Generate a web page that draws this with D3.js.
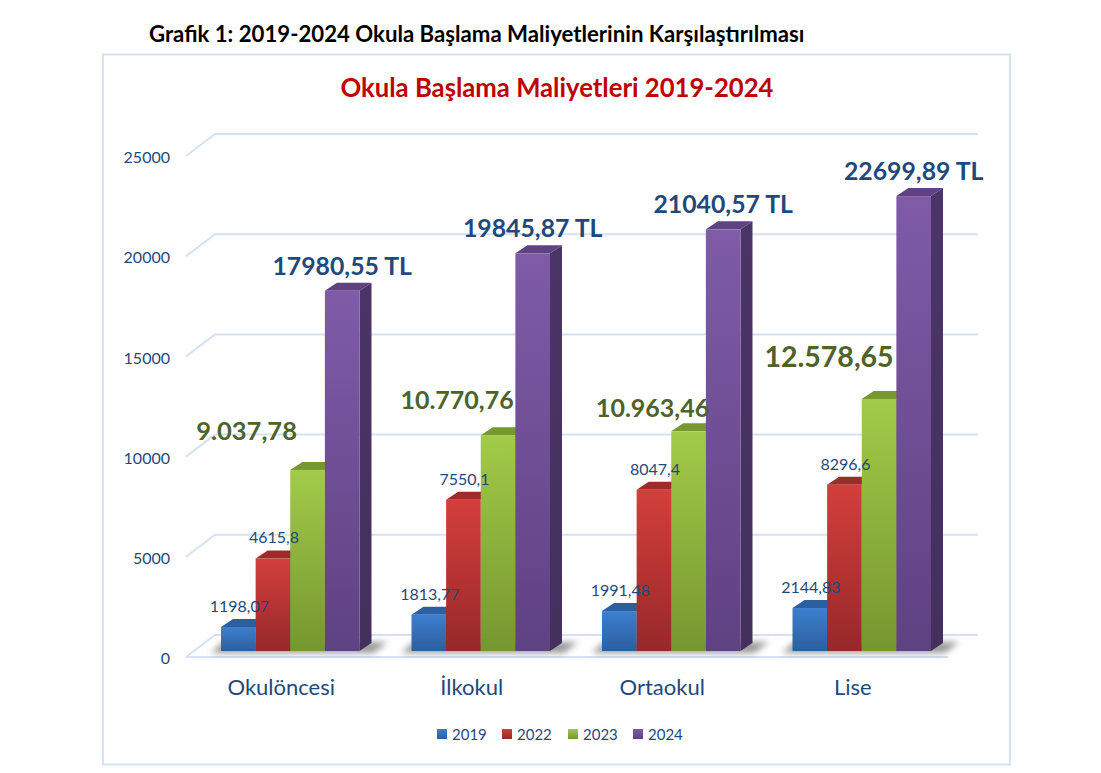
<!DOCTYPE html>
<html><head><meta charset="utf-8">
<script src="https://cdn.jsdelivr.net/npm/d3@7/dist/d3.min.js"></script>
<style>html,body{margin:0;padding:0;background:#fff}svg{display:block}text{font-family:Lato,"Open Sans",sans-serif}</style>
</head><body><script>
const pageTitle = "Grafik 1: 2019-2024 Okula Başlama Maliyetlerinin Karşılaştırılması";
const chartTitle = "Okula Başlama Maliyetleri 2019-2024";
const categories = ["Okulöncesi","İlkokul","Ortaokul","Lise"];
const seriesNames = ["2019","2022","2023","2024"];
const v2019 = [1198.07,1813.77,1991.48,2144.83];
const v2022 = [4615.8,7550.1,8047.4,8296.6];
const v2023 = [9037.78,10770.76,10963.46,12578.65];
const v2024 = [17980.55,19845.87,21040.57,22699.89];
const l2019 = ["1198,07","1813,77","1991,48","2144,83"];
const l2022 = ["4615,8","7550,1","8047,4","8296,6"];
const l2023 = ["9.037,78","10.770,76","10.963,46","12.578,65"];
const l2024 = ["17980,55 TL","19845,87 TL","21040,57 TL","22699,89 TL"];
const yTicks = [0,5000,10000,15000,20000,25000];

const seriesValues=[v2019,v2022,v2023,v2024], seriesLabels=[l2019,l2022,l2023,l2024];
const W=1101,H=773;
const svg=d3.select("body").append("svg").attr("width",W).attr("height",H);
const defs=svg.append("defs");
const pal=[
 {t:"#3d7fd0",b:"#2c5f9e",top:"#2b5f9f",side:"#24497c"},
 {t:"#d33f3b",b:"#97282a",top:"#9c2b2a",side:"#7a2020"},
 {t:"#a2cb49",b:"#76962f",top:"#76982f",side:"#5c7725"},
 {t:"#7f5ba8",b:"#5f4282",top:"#5f4282",side:"#4b3568"}];
pal.forEach((p,i)=>{
  const g=defs.append("linearGradient").attr("id","g"+i).attr("x1",0).attr("y1",0).attr("x2",0).attr("y2",1);
  g.append("stop").attr("offset",0).attr("stop-color",p.t);
  g.append("stop").attr("offset",1).attr("stop-color",p.b);
  const s=defs.append("linearGradient").attr("id","s"+i).attr("x1",0).attr("y1",0).attr("x2",0).attr("y2",1);
  s.append("stop").attr("offset",0).attr("stop-color",p.side);
  s.append("stop").attr("offset",1).attr("stop-color",d3.color(p.side).darker(0.3));
});
defs.append("filter").attr("id","blur").attr("x","-20%").attr("y","-100%").attr("width","140%").attr("height","300%")
  .append("feGaussianBlur").attr("stdDeviation",3);

const INK="#1f497d", GRID="#d5e2f3";
svg.append("text").attr("x",149).attr("y",42).attr("font-size",22.2).attr("font-weight",700).attr("fill","#000").text(pageTitle);
svg.append("rect").attr("x",103).attr("y",54.5).attr("width",907).attr("height",710).attr("fill","#fff").attr("stroke",GRID).attr("stroke-width",2);
svg.append("text").attr("x",557).attr("y",97).attr("text-anchor","middle").attr("font-size",25.7).attr("font-weight",700).attr("fill","#c00000").text(chartTitle);

const y=d3.scaleLinear().domain([0,25000]).range([657,156]);
const depthX=29, depthY=22, left=186, right=948;
const grid=svg.append("g").attr("fill","none").attr("stroke",GRID).attr("stroke-width",2);
yTicks.forEach(t=>{
  const f=y(t);
  grid.append("path").attr("d",`M${left},${f}L${left+depthX},${f-depthY}L${right+depthX+1},${f-depthY}`);
});
grid.append("path").attr("d",`M${left},${y(0)}L${right},${y(0)}`);

svg.append("g").attr("transform","translate(170,1.5)")
  .call(d3.axisLeft(y).tickValues(yTicks).tickSize(0).tickPadding(0).tickFormat(d3.format("d")))
  .call(g=>g.select(".domain").remove())
  .call(g=>g.selectAll("text").attr("font-size",16).attr("fill",INK).attr("font-family","Lato,sans-serif"));

const x0=d3.scaleBand().domain(categories).range([195,957]).paddingInner(0.273).paddingOuter(0.1365);
const x1=d3.scaleBand().domain(seriesNames).range([0,x0.bandwidth()]);
const baseLift=6, dx=12, dy=8;
const barY=v=>y(v)-baseLift, baseY=y(0)-baseLift;

categories.forEach(c=>{
  const a=x0(c), b=a+x0.bandwidth();
  svg.append("path").attr("d",`M${a-10},${baseY+2}L${a+2},${baseY-9}L${b+28},${baseY-9}L${b+14},${baseY+2}Z`)
    .attr("fill","#555").attr("opacity",.6).attr("filter","url(#blur)");
});
categories.forEach((c,ci)=>{
  seriesNames.forEach((s,si)=>{
    const v=seriesValues[si][ci], xl=x0(c)+x1(s), w=x1.bandwidth(), t=barY(v);
    const g=svg.append("g");
    g.append("path").attr("d",`M${xl},${t}L${xl+dx},${t-dy}L${xl+w+dx},${t-dy}L${xl+w},${t}Z`).attr("fill",pal[si].top);
    g.append("path").attr("d",`M${xl+w},${t}L${xl+w+dx},${t-dy}L${xl+w+dx},${baseY-dy}L${xl+w},${baseY}Z`).attr("fill",`url(#s${si})`);
    g.append("rect").attr("x",xl).attr("y",t).attr("width",w).attr("height",baseY-t).attr("fill",`url(#g${si})`);
  });
});
const nudge2023=[[-61,-30],[-41,-26],[-36,-14],[-50,-32]];
const size2023=[25.5,25,25,28.5];
const lab=svg.append("g").attr("text-anchor","middle");
categories.forEach((c,ci)=>{
  seriesNames.forEach((s,si)=>{
    const cx=x0(c)+x1(s)+x1.bandwidth()/2, t=barY(seriesValues[si][ci]);
    const txt=seriesLabels[si][ci];
    if(si<2) lab.append("text").attr("x",cx+1).attr("y",t-15).attr("font-size",16).attr("fill",INK).text(txt);
    else if(si===2) lab.append("text").attr("x",cx+nudge2023[ci][0]).attr("y",t+nudge2023[ci][1]).attr("font-size",size2023[ci]).attr("font-weight",700).attr("fill","#4f6228").text(txt);
    else lab.append("text").attr("x",cx).attr("y",t-16).attr("font-size",24.8).attr("font-weight",700).attr("fill",INK).text(txt);
  });
  svg.append("text").attr("x",x0(c)+x0.bandwidth()/2-9).attr("y",695).attr("text-anchor","middle").attr("font-size",22).attr("fill",INK).text(c);
});
const lg=d3.scaleOrdinal().domain(seriesNames).range([437,502,568,633]);
seriesNames.forEach((s,i)=>{
  svg.append("rect").attr("x",lg(s)).attr("y",729).attr("width",10).attr("height",10).attr("fill",`url(#g${i})`);
  svg.append("text").attr("x",lg(s)+15).attr("y",740).attr("font-size",15).attr("fill",INK).text(s);
});
</script></body></html>
